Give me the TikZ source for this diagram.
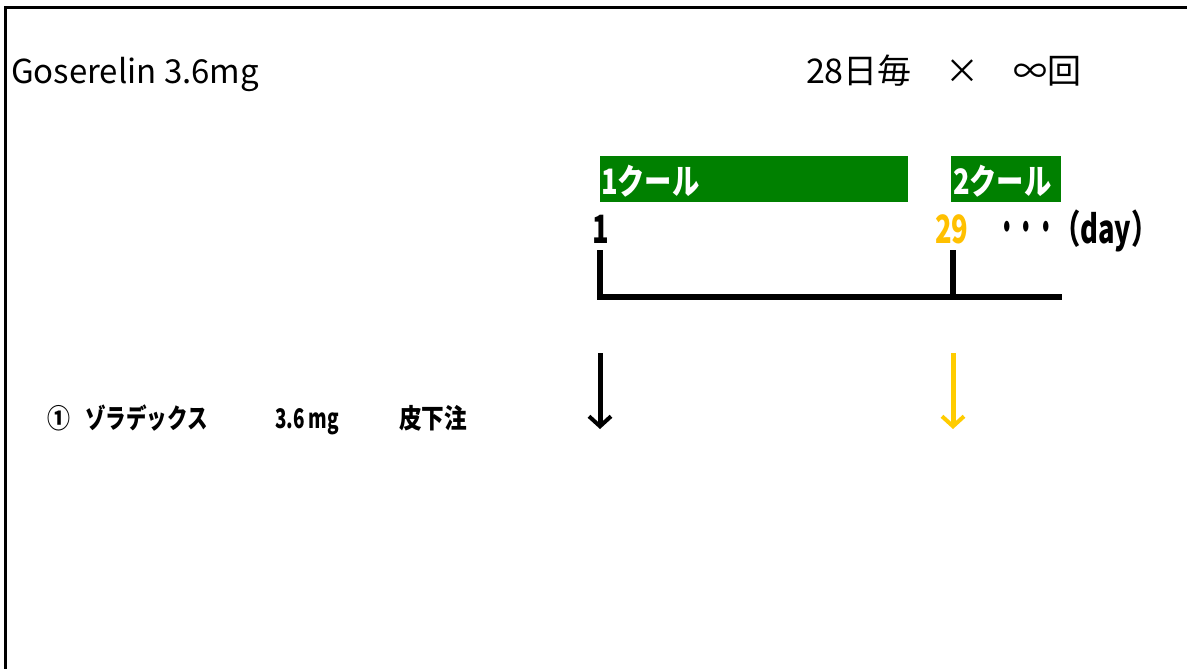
\documentclass[tikz,border=0pt]{standalone}
\usepackage{fontspec}
\setmainfont{Noto Sans CJK JP}
\newfontfamily\cjk{Noto Sans CJK JP}
\usetikzlibrary{arrows.meta}
\definecolor{cgreen}{HTML}{008000}
\definecolor{corange}{HTML}{FFC000}
\definecolor{cyellow}{HTML}{FFCC00}
\newcommand{\cond}[2][0.72]{\scalebox{#1}[1]{#2}}
\tikzset{
  lbl/.style={anchor=base west, inner sep=0pt, outer sep=0pt},
  big/.style={lbl, font=\fontsize{33}{36}\selectfont},
  cool/.style={lbl, font=\bfseries\fontsize{35}{37}\selectfont, text=white},
  coolbox/.style={fill=cgreen, draw=none},
  day/.style={lbl, font=\bfseries\fontsize{39}{41}\selectfont},
  row/.style={lbl, font=\bfseries\fontsize{27}{29}\selectfont},
  bracket/.style={line width=6pt},
  dose/.style={line width=5pt, -{Straight Barb[length=10pt, width=22pt, line width=4pt]}}
}
\begin{document}
\begin{tikzpicture}[x=1pt, y=-1pt]
\useasboundingbox (0,0) rectangle (1187,669);
\fill[white] (0,0) rectangle (1187,669);
% frame
\draw[line width=3pt] (5.5,669) -- (5.5,7.5) -- (1187,7.5);
% titles
\node[big] (title) at (11,84) {Goserelin 3.6mg};
\node[big, font=\fontsize{34}{36}\selectfont] (freq) at (806,84) {28日毎　×　∞回};
% cycles
\fill[coolbox] (600,156) rectangle (908,202);
\fill[coolbox] (951,156) rectangle (1061,202);
\node[cool] (c1) at (601,194) {\cond[0.78]{1クール}};
\node[cool] (c2) at (953,194) {\cond[0.78]{2クール}};
% day labels
\node[day] (d1) at (592,243) {\cond[0.7]{1}};
\node[day, text=corange] (d29) at (935,243) {\cond[0.7]{29}};
\node[day] (dots) at (997,241) {\cond[0.5]{・・・}};
\node[day] (dayu) at (1053,243) {\cond[0.7]{（day）}};
% bracket
\coordinate (t1) at (600,250);
\coordinate (t29) at (953,250);
\coordinate (b1) at (600,297);
\coordinate (b29) at (953,297);
\coordinate (bend) at (1062,297);
\draw[bracket] (t1) -- (b1) -- (bend);
\draw[bracket] (t29) -- (b29);
% arrows
\coordinate (a1s) at (600,353);
\coordinate (a1e) at (600,429);
\coordinate (a29s) at (953,353);
\coordinate (a29e) at (953,429);
\draw[dose] (a1s) -- (a1e);
\draw[dose, draw=cyellow] (a29s) -- (a29e);
% drug row
\node[row] (num) at (47,428) {\cond[0.85]{①}};
\node[row] (drug) at (85,428) {\cond[0.76]{ゾラデックス}};
\node[row] (amt) at (275,428) {\cond[0.7]{3.6\hspace{6pt}mg}};
\node[row] (route) at (399,428) {\cond[0.84]{皮下注}};
\end{tikzpicture}
\end{document}
